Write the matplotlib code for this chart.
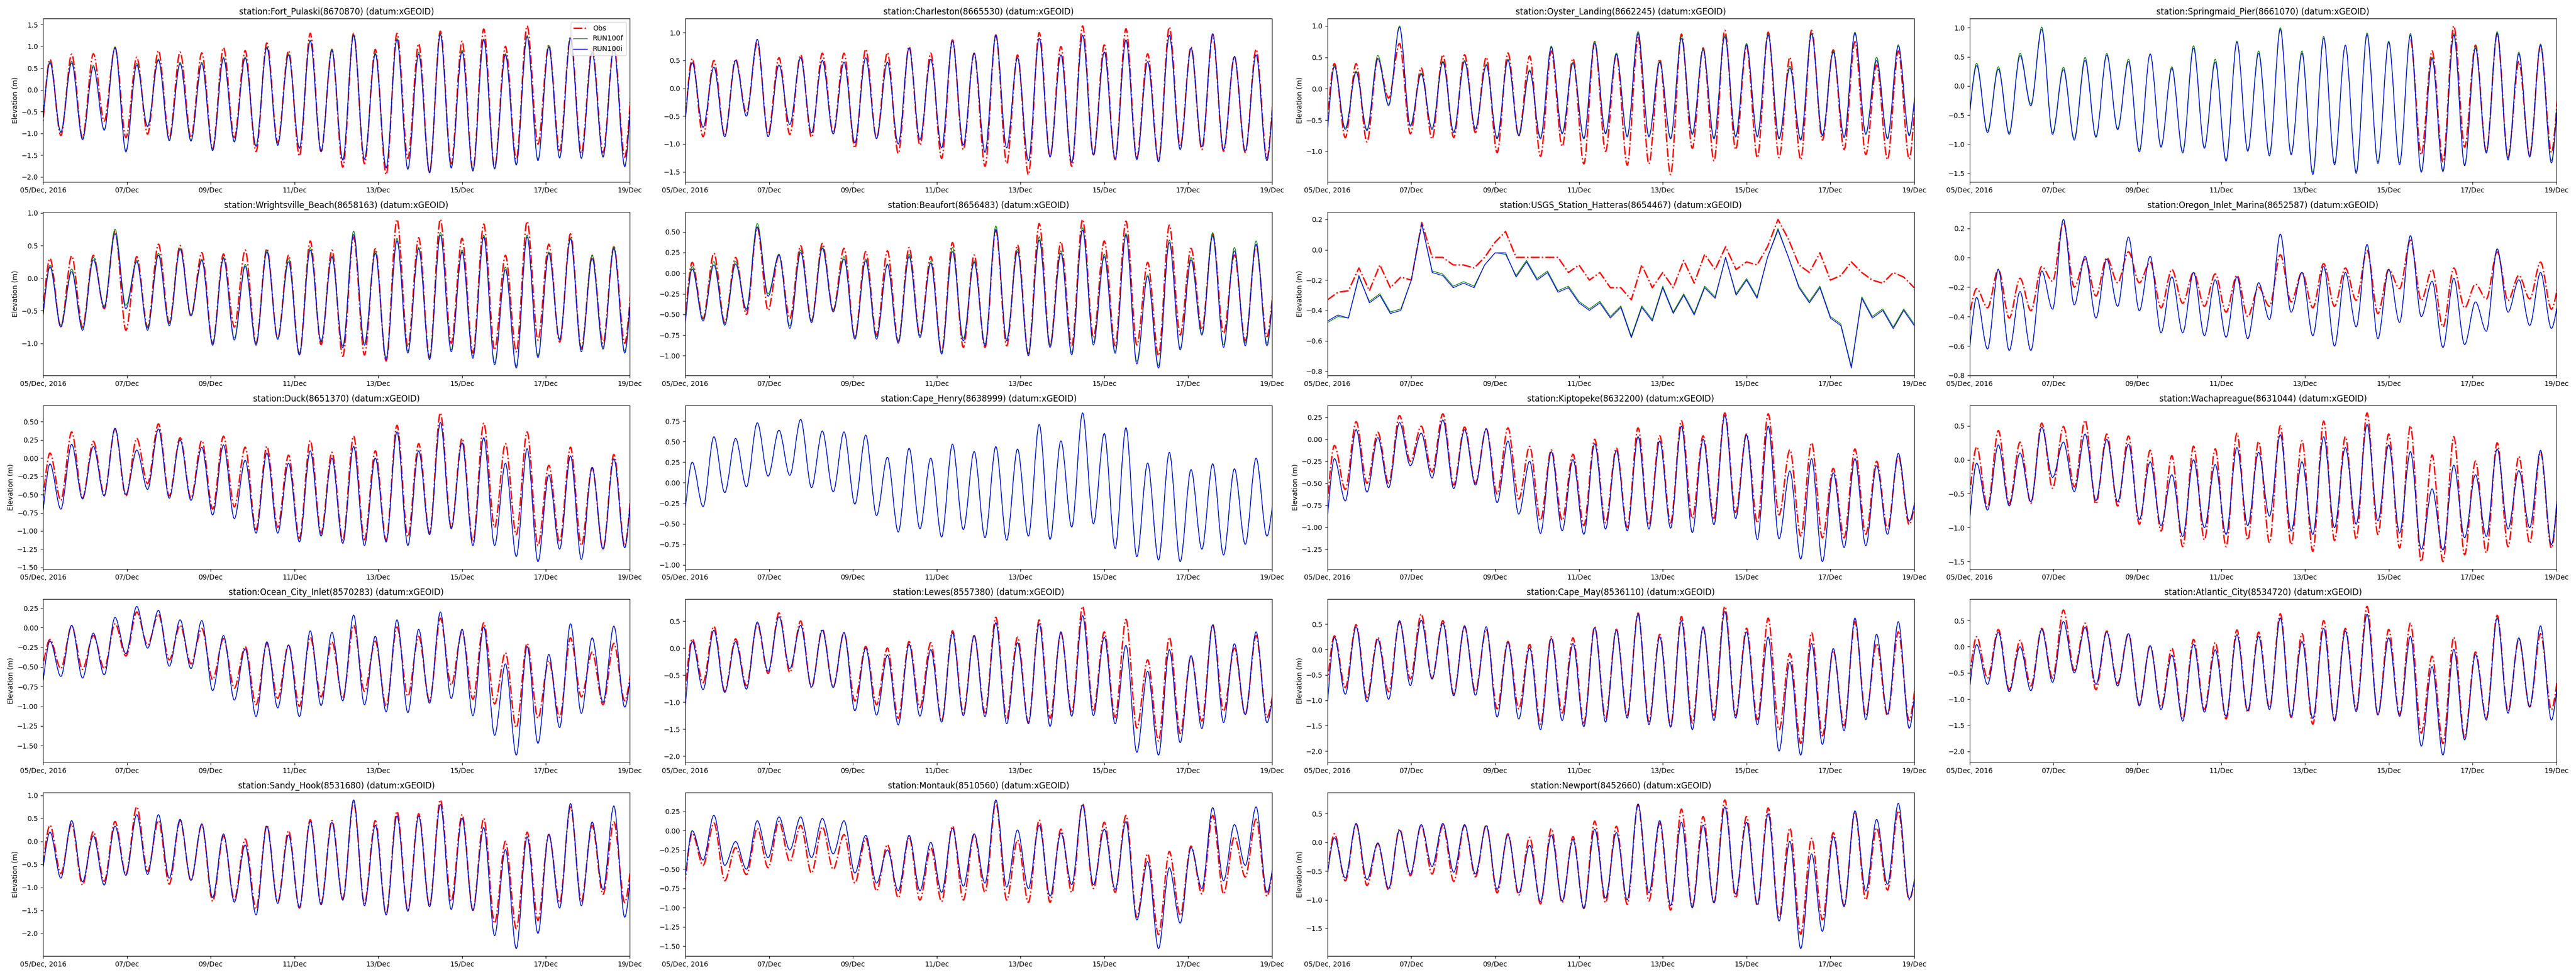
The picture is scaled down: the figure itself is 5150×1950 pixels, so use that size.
import numpy as np
import pandas as pd
import matplotlib
matplotlib.use("Agg")
import matplotlib.pyplot as plt
import matplotlib.dates as mdates
from matplotlib.path import Path
from matplotlib.patches import PathPatch
from matplotlib.lines import Line2D

nan = np.nan

# ---------------- stations (row-major order of the panels) ----------------
STATIONS = ["Fort_Pulaski", "Charleston", "Oyster_Landing", "Springmaid_Pier",
            "Wrightsville_Beach", "Beaufort", "USGS_Station_Hatteras", "Oregon_Inlet_Marina",
            "Duck", "Cape_Henry", "Kiptopeke", "Wachapreague",
            "Ocean_City_Inlet", "Lewes", "Cape_May", "Atlantic_City",
            "Sandy_Hook", "Montauk", "Newport"]
STATION_IDS = ["8670870", "8665530", "8662245", "8661070",
               "8658163", "8656483", "8654467", "8652587",
               "8651370", "8638999", "8632200", "8631044",
               "8570283", "8557380", "8536110", "8534720",
               "8531680", "8510560", "8452660"]

# sampling of the series (successive highs/lows of the tide)
TIDE_START = "2016-12-04 21:47"
TIDE_STEP = "6h12min36s"
# Hatteras is read on a regular 6-hourly grid
HATTERAS_START = "2016-12-05 00:00"
HATTERAS_STEP = "6h"

TICK_DATES = ["2016-12-05", "2016-12-07", "2016-12-09", "2016-12-11",
              "2016-12-13", "2016-12-15", "2016-12-17", "2016-12-19"]
TICK_LABELS = ["05/Dec, 2016", "07/Dec", "09/Dec", "11/Dec",
               "13/Dec", "15/Dec", "17/Dec", "19/Dec"]

# ---------------- values (m) ----------------
obs_fort_pulaski = [-1.30, 0.70, -1.05, 0.82, -1.10, 0.83, -0.72, 0.97, -1.10, 0.75, -1.02, 0.90, -1.10, 0.87, -1.10,
                    0.85, -1.35, 0.97, -1.10, 0.90, -1.42, 1.08, -1.22, 0.90, -1.52, 1.30, -1.42, 0.93, -1.78,
                    1.30, -1.70, 0.93, -1.95, 1.30, -1.58, 1.06, -1.90, 1.35, -1.70, 1.12, -1.85, 1.40, -1.80,
                    1.00, -1.60, 1.47, -1.25, 1.03, -1.40, 1.22, -1.45, 0.95, -1.45, 1.00, -1.55, 1.00]
run100i_fort_pulaski = [-1.20, 0.62, -0.98, 0.62, -1.15, 0.53, -0.93, 0.97, -1.43, 0.57, -0.85, 0.68, -1.17, 0.60, -1.18,
                        0.60, -1.40, 0.72, -1.20, 0.73, -1.30, 0.97, -1.28, 0.80, -1.35, 1.12, -1.42, 0.90, -1.62,
                        1.25, -1.60, 0.82, -1.80, 1.15, -1.83, 0.82, -1.91, 1.27, -1.80, 0.88, -1.87, 1.15, -1.82,
                        0.80, -1.73, 1.22, -1.63, 0.98, -1.57, 1.18, -1.58, 0.85, -1.55, 0.95, -1.77, 0.90]
run100f_fort_pulaski = [-1.18, 0.65, -0.96, 0.66, -1.12, 0.56, -0.91, 0.99, -1.40, 0.61, -0.83, 0.71, -1.14, 0.63, -1.16,
                        0.63, -1.37, 0.75, -1.18, 0.76, -1.28, 0.99, -1.26, 0.83, -1.33, 1.14, -1.40, 0.93, -1.60,
                        1.28, -1.58, 0.85, -1.78, 1.18, -1.81, 0.86, -1.88, 1.30, -1.78, 0.91, -1.85, 1.17, -1.80,
                        0.83, -1.71, 1.25, -1.61, 1.02, -1.55, 1.20, -1.56, 0.88, -1.53, 0.98, -1.74, 0.90]

obs_charleston = [-1.00, 0.53, -0.87, 0.50, -0.85, 0.52, -0.45, 0.82, -0.82, 0.55, -0.83, 0.60, -0.88, 0.63, -0.80,
                  0.63, -1.07, 0.70, -0.90, 0.64, -1.17, 0.75, -1.02, 0.63, -1.26, 0.87, -1.10, 0.63, -1.40,
                  0.96, -1.35, 0.60, -1.55, 1.00, -1.23, 0.75, -1.40, 1.12, -1.20, 0.78, -1.28, 1.07, -1.25,
                  0.62, -1.30, 1.10, -1.05, 0.74, -1.10, 0.95, -1.13, 0.57, -1.15, 0.70, -1.25, 0.60]
run100i_charleston = [-1.00, 0.46, -0.70, 0.38, -0.87, 0.50, -0.50, 0.88, -0.87, 0.42, -0.65, 0.55, -0.80, 0.50, -0.82,
                      0.47, -0.98, 0.55, -0.90, 0.47, -1.00, 0.72, -0.92, 0.52, -1.07, 0.85, -1.02, 0.63, -1.15,
                      0.95, -1.07, 0.55, -1.30, 0.90, -1.23, 0.60, -1.33, 0.95, -1.20, 0.65, -1.27, 0.87, -1.28,
                      0.48, -1.32, 0.95, -1.10, 0.72, -1.05, 0.98, -1.10, 0.57, -1.13, 0.60, -1.30, 0.60]

obs_oyster_landing = [-0.80, 0.40, -0.78, 0.40, -0.85, 0.48, -0.15, 0.72, -0.72, 0.33, -0.80, 0.54, -0.78, 0.54, -0.70,
                      0.50, -1.02, 0.57, -0.75, 0.52, -1.08, 0.60, -0.92, 0.48, -1.20, 0.75, -1.00, 0.55, -1.22,
                      0.82, -1.20, 0.47, -1.37, 0.87, -0.95, 0.65, -1.15, 0.93, -0.97, 0.68, -1.10, 0.90, -1.10,
                      0.50, -1.13, 0.93, -0.82, 0.62, -0.97, 0.75, -1.05, 0.38, -1.13, 0.60, -1.12, 0.50]
run100i_oyster_landing = [-1.10, 0.35, -0.65, 0.26, -0.67, 0.48, -0.27, 0.98, -0.60, 0.23, -0.65, 0.42, -0.70, 0.43, -0.65,
                          0.37, -0.80, 0.45, -0.75, 0.28, -0.80, 0.66, -0.72, 0.40, -0.80, 0.72, -0.72, 0.55, -0.77,
                          0.88, -0.77, 0.42, -0.80, 0.80, -0.73, 0.62, -0.80, 0.83, -0.77, 0.70, -0.77, 0.85, -0.80,
                          0.33, -0.82, 0.87, -0.75, 0.58, -0.78, 0.88, -0.73, 0.45, -0.80, 0.68, -0.75, 0.50]
run100f_oyster_landing = [-1.08, 0.37, -0.63, 0.28, -0.65, 0.53, -0.25, 1.00, -0.58, 0.25, -0.63, 0.44, -0.68, 0.45, -0.63,
                          0.39, -0.78, 0.47, -0.73, 0.30, -0.78, 0.68, -0.70, 0.42, -0.78, 0.75, -0.70, 0.57, -0.75,
                          0.91, -0.75, 0.44, -0.78, 0.83, -0.71, 0.64, -0.78, 0.86, -0.75, 0.72, -0.75, 0.87, -0.78,
                          0.36, -0.80, 0.89, -0.73, 0.60, -0.76, 0.90, -0.71, 0.50, -0.78, 0.70, -0.73, 0.50]

obs_springmaid_pier = [nan] * 41 + [0.80, -1.18, 0.60, -1.30, 1.03, -1.05, 0.70, -1.13, 0.90, -1.22,
                                    0.42, -1.18, 0.70, -1.14, 0.50]
run100i_springmaid_pier = [-0.80, 0.35, -0.80, 0.29, -0.83, 0.52, -0.34, 0.97, -0.83, 0.28, -0.93, 0.44, -0.88, 0.53, -0.75,
                           0.42, -1.13, 0.55, -1.05, 0.30, -1.15, 0.65, -1.07, 0.41, -1.29, 0.75, -1.12, 0.56, -1.20,
                           0.97, -1.18, 0.56, -1.52, 0.82, -1.35, 0.70, -1.50, 0.88, -1.33, 0.75, -1.35, 0.87, -1.48,
                           0.47, -1.47, 0.87, -1.37, 0.65, -1.15, 0.90, -1.27, 0.55, -1.22, 0.70, -1.32, 0.50]
run100f_springmaid_pier = [-0.78, 0.39, -0.77, 0.33, -0.80, 0.56, -0.31, 1.01, -0.80, 0.32, -0.90, 0.49, -0.86, 0.56, -0.73,
                           0.46, -1.10, 0.55, -1.03, 0.33, -1.12, 0.69, -1.05, 0.46, -1.27, 0.77, -1.10, 0.60, -1.17,
                           1.00, -1.16, 0.60, -1.48, 0.85, -1.32, 0.70, -1.47, 0.91, -1.30, 0.77, -1.32, 0.90, -1.46,
                           0.49, -1.45, 0.90, -1.35, 0.68, -1.13, 0.93, -1.24, 0.58, -1.20, 0.72, -1.28, 0.52]

obs_wrightsville_beach = [-0.80, 0.30, -0.75, 0.34, -0.75, 0.35, -0.47, 0.72, -0.80, 0.33, -0.75, 0.52, -0.68, 0.50, -0.58,
                          0.39, -1.00, 0.37, -0.75, 0.43, -1.00, 0.45, -0.93, 0.35, -1.17, 0.57, -1.02, 0.43, -1.20,
                          0.63, -1.18, 0.45, -1.27, 0.90, -1.05, 0.62, -1.22, 0.90, -1.00, 0.61, -1.15, 0.83, -1.10,
                          0.35, -1.13, 0.87, -0.95, 0.52, -0.98, 0.68, -1.08, 0.35, -1.00, 0.48, -1.00, 0.40]
run100i_wrightsville_beach = [-0.90, 0.17, -0.75, 0.10, -0.80, 0.28, -0.45, 0.68, -0.47, 0.25, -0.80, 0.35, -0.73, 0.44, -0.58,
                              0.27, -1.03, 0.30, -0.95, 0.18, -1.03, 0.40, -0.94, 0.25, -1.18, 0.43, -0.98, 0.32, -1.07,
                              0.67, -1.03, 0.38, -1.25, 0.57, -1.15, 0.45, -1.25, 0.66, -1.13, 0.40, -1.23, 0.63, -1.33,
                              0.13, -1.38, 0.63, -1.22, 0.38, -0.95, 0.60, -1.13, 0.30, -1.09, 0.45, -1.15, 0.40]
run100f_wrightsville_beach = [-0.88, 0.20, -0.72, 0.14, -0.77, 0.32, -0.43, 0.75, -0.42, 0.27, -0.77, 0.38, -0.70, 0.46, -0.56,
                              0.29, -1.00, 0.32, -0.92, 0.21, -1.00, 0.43, -0.92, 0.30, -1.15, 0.47, -0.96, 0.34, -1.04,
                              0.72, -1.00, 0.41, -1.22, 0.61, -1.12, 0.47, -1.22, 0.70, -1.10, 0.43, -1.20, 0.66, -1.30,
                              0.17, -1.35, 0.66, -1.19, 0.40, -0.93, 0.62, -1.10, 0.35, -1.06, 0.48, -1.12, 0.42]

obs_beaufort = [-0.80, 0.13, -0.55, 0.24, -0.60, 0.19, -0.50, 0.55, -0.45, 0.22, -0.55, 0.33, -0.58, 0.36, -0.45,
                0.30, -0.78, 0.26, -0.75, 0.27, -0.83, 0.31, -0.75, 0.20, -0.95, 0.37, -0.90, 0.22, -0.90,
                0.52, -0.88, 0.34, -0.98, 0.60, -0.88, 0.38, -0.88, 0.65, -0.78, 0.39, -0.88, 0.63, -0.87,
                0.13, -1.00, 0.58, -0.75, 0.30, -0.68, 0.47, -0.73, 0.22, -0.82, 0.33, -0.77, 0.20]
run100i_beaufort = [-0.90, 0.05, -0.58, 0.10, -0.63, 0.11, -0.45, 0.56, -0.28, 0.22, -0.67, 0.25, -0.60, 0.30, -0.47,
                    0.17, -0.80, 0.15, -0.80, 0.10, -0.85, 0.20, -0.78, 0.12, -0.98, 0.26, -0.82, 0.13, -0.88,
                    0.53, -0.82, 0.26, -1.00, 0.40, -0.90, 0.24, -0.99, 0.52, -0.87, 0.20, -0.97, 0.46, -1.10,
                    -0.04, -1.15, 0.37, -0.93, 0.16, -0.75, 0.45, -0.90, 0.27, -0.88, 0.35, -0.88, 0.20]
run100f_beaufort = [-0.88, 0.08, -0.56, 0.14, -0.61, 0.14, -0.43, 0.60, -0.25, 0.23, -0.64, 0.28, -0.58, 0.32, -0.45,
                    0.20, -0.78, 0.17, -0.77, 0.11, -0.83, 0.23, -0.76, 0.14, -0.96, 0.31, -0.79, 0.15, -0.86,
                    0.57, -0.80, 0.29, -0.97, 0.44, -0.87, 0.27, -0.96, 0.55, -0.84, 0.23, -0.95, 0.48, -1.07,
                    -0.02, -1.12, 0.40, -0.91, 0.19, -0.73, 0.49, -0.87, 0.31, -0.85, 0.39, -0.85, 0.22]

obs_hatteras = [-0.33, -0.28, -0.27, -0.12, -0.27, -0.10, -0.25, -0.18, -0.20, 0.18, -0.05, -0.05, -0.10, -0.10, -0.12,
                -0.05, 0.05, 0.12, -0.05, -0.05, -0.05, -0.05, -0.05, -0.15, -0.10, -0.20, -0.15, -0.25, -0.25,
                -0.33, -0.10, -0.25, -0.15, -0.25, -0.07, -0.22, -0.03, -0.13, 0.02, -0.13, -0.08, -0.10, 0.02,
                0.20, 0.07, -0.10, -0.15, -0.02, -0.20, -0.17, -0.08, -0.15, -0.20, -0.22, -0.15, -0.18, -0.25]
run100i_hatteras = [-0.47, -0.43, -0.45, -0.17, -0.35, -0.30, -0.42, -0.40, -0.20, 0.17, -0.15, -0.17, -0.25, -0.22, -0.25,
                    -0.10, -0.02, -0.02, -0.18, -0.08, -0.20, -0.15, -0.28, -0.25, -0.35, -0.40, -0.35, -0.45, -0.38,
                    -0.58, -0.38, -0.47, -0.25, -0.42, -0.30, -0.43, -0.25, -0.32, -0.05, -0.30, -0.20, -0.32, -0.05,
                    0.13, -0.05, -0.25, -0.35, -0.25, -0.45, -0.50, -0.78, -0.32, -0.45, -0.40, -0.52, -0.40, -0.50]
run100f_hatteras = [-0.48, -0.44, -0.45, -0.18, -0.34, -0.29, -0.41, -0.39, -0.20, 0.17, -0.14, -0.16, -0.24, -0.21, -0.24,
                    -0.10, -0.02, -0.03, -0.17, -0.07, -0.19, -0.14, -0.27, -0.24, -0.34, -0.39, -0.34, -0.44, -0.37,
                    -0.57, -0.37, -0.46, -0.24, -0.41, -0.29, -0.42, -0.24, -0.31, -0.05, -0.29, -0.19, -0.31, -0.05,
                    0.14, -0.05, -0.24, -0.34, -0.24, -0.44, -0.49, -0.77, -0.31, -0.44, -0.39, -0.51, -0.39, -0.49]

obs_oregon_inlet = [-0.45, -0.21, -0.34, -0.08, -0.41, -0.14, -0.36, -0.06, -0.16, 0.24, -0.20, -0.01, -0.26, 0.00, -0.17,
                    0.04, -0.17, -0.03, -0.34, -0.08, -0.31, -0.10, -0.33, -0.11, -0.37, -0.12, -0.40, -0.20, -0.33,
                    0.02, -0.30, -0.10, -0.34, -0.04, -0.33, -0.07, -0.29, 0.05, -0.38, -0.08, -0.21, 0.12, -0.29,
                    -0.08, -0.47, -0.07, -0.34, -0.18, -0.28, 0.04, -0.29, -0.12, -0.28, -0.03, -0.35, -0.10]
run100i_oregon_inlet = [-0.75, -0.27, -0.62, -0.08, -0.63, -0.23, -0.63, -0.09, -0.35, 0.26, -0.32, 0.01, -0.41, -0.01, -0.33,
                        0.14, -0.36, 0.01, -0.51, -0.13, -0.51, -0.10, -0.53, -0.15, -0.54, -0.13, -0.55, -0.17, -0.42,
                        0.16, -0.37, -0.10, -0.53, -0.06, -0.60, -0.10, -0.47, 0.09, -0.55, -0.08, -0.44, 0.15, -0.40,
                        -0.16, -0.61, -0.14, -0.59, -0.30, -0.50, 0.06, -0.37, -0.15, -0.46, -0.10, -0.48, -0.20]

obs_duck = [-0.80, 0.07, -0.58, 0.36, -0.55, 0.23, -0.50, 0.40, -0.52, 0.27, -0.35, 0.47, -0.52, 0.28, -0.55,
            0.24, -0.70, 0.30, -0.67, 0.15, -0.98, 0.16, -0.95, 0.04, -1.10, 0.24, -1.03, 0.08, -1.13,
            0.30, -1.12, 0.10, -1.13, 0.45, -1.08, 0.20, -1.03, 0.62, -0.95, 0.27, -1.15, 0.48, -0.95,
            0.20, -1.05, 0.36, -1.20, -0.10, -1.15, 0.15, -1.20, -0.13, -1.25, 0.05, -1.20, 0.00]
run100i_duck = [-1.00, -0.08, -0.70, 0.19, -0.56, 0.16, -0.52, 0.41, -0.50, 0.11, -0.43, 0.40, -0.55, 0.25, -0.58,
                0.15, -0.78, 0.18, -0.83, -0.03, -1.03, 0.07, -1.03, -0.07, -1.15, 0.10, -1.07, 0.00, -1.17,
                0.16, -1.20, 0.00, -1.15, 0.36, -1.20, 0.10, -1.05, 0.49, -0.97, 0.21, -1.20, 0.28, -1.20,
                -0.07, -1.35, 0.13, -1.42, -0.23, -1.25, 0.03, -1.39, -0.13, -1.25, -0.01, -1.23, 0.00]

obs_cape_henry = [nan] * 56
run100i_cape_henry = [-0.55, 0.25, -0.29, 0.56, -0.12, 0.54, -0.05, 0.73, 0.08, 0.64, 0.09, 0.77, -0.06, 0.63, -0.11,
                      0.62, -0.26, 0.58, -0.40, 0.31, -0.60, 0.42, -0.56, 0.30, -0.66, 0.47, -0.57, 0.38, -0.67,
                      0.44, -0.70, 0.41, -0.65, 0.71, -0.69, 0.51, -0.54, 0.85, -0.50, 0.60, -0.80, 0.67, -0.90,
                      0.24, -0.94, 0.37, -0.96, 0.16, -0.81, 0.23, -0.88, 0.17, -0.75, 0.30, -0.65, 0.10]

obs_kiptopeke = [-0.95, -0.07, -0.57, 0.20, -0.50, 0.08, -0.50, 0.27, -0.25, 0.15, -0.37, 0.29, -0.52, 0.14, -0.50,
                 0.12, -0.62, 0.13, -0.68, -0.08, -0.92, -0.12, -0.92, -0.17, -0.98, 0.00, -0.95, -0.10, -1.00,
                 0.13, -0.97, 0.04, -0.95, 0.21, -0.90, 0.04, -0.90, 0.30, -0.83, 0.06, -0.95, 0.29, -0.86,
                 -0.12, -1.10, -0.04, -1.12, -0.33, -1.12, -0.11, -1.08, -0.25, -1.02, -0.19, -0.97, -0.50]
run100i_kiptopeke = [-1.15, -0.22, -0.70, 0.11, -0.60, 0.02, -0.55, 0.19, -0.30, 0.07, -0.44, 0.22, -0.56, 0.11, -0.52,
                     0.12, -0.72, -0.02, -0.85, -0.25, -1.07, -0.14, -1.04, -0.23, -1.08, -0.05, -1.02, -0.13, -1.04,
                     0.03, -1.02, -0.02, -1.01, 0.15, -1.06, 0.00, -0.97, 0.27, -0.90, 0.05, -1.14, 0.15, -1.13,
                     -0.36, -1.36, -0.22, -1.39, -0.38, -1.23, -0.22, -1.21, -0.30, -1.08, -0.16, -0.93, -0.50]

obs_wachapreague = [-0.80, 0.19, -0.70, 0.43, -0.65, 0.26, -0.64, 0.54, -0.42, 0.49, -0.40, 0.58, -0.65, 0.38, -0.68,
                    0.35, -0.95, 0.14, -1.05, 0.06, -1.28, 0.20, -1.18, 0.16, -1.28, 0.39, -1.18, 0.27, -1.22,
                    0.50, -1.25, 0.28, -1.35, 0.57, -1.19, 0.34, -1.17, 0.69, -1.10, 0.38, -1.30, 0.50, -1.50,
                    0.07, -1.50, 0.34, -1.40, -0.02, -1.37, 0.25, -1.28, 0.05, -1.23, 0.12, -1.30, 0.00]
run100i_wachapreague = [-1.20, -0.05, -0.74, 0.22, -0.68, 0.10, -0.62, 0.48, -0.26, 0.26, -0.47, 0.38, -0.60, 0.30, -0.62,
                        0.23, -0.88, -0.03, -0.97, -0.22, -1.13, 0.00, -1.00, -0.07, -1.10, 0.18, -0.97, 0.11, -0.83,
                        0.37, -1.05, -0.03, -1.10, 0.34, -1.00, 0.18, -0.95, 0.52, -0.90, 0.22, -1.08, 0.12, -1.32,
                        -0.43, -1.33, -0.08, -1.15, -0.22, -1.13, 0.16, -1.02, -0.16, -1.00, 0.14, -1.25, 0.00]

obs_ocean_city = [-0.60, -0.15, -0.52, 0.02, -0.53, -0.10, -0.52, 0.05, -0.36, 0.20, -0.22, 0.17, -0.41, 0.03, -0.46,
                  -0.01, -0.66, -0.14, -0.77, -0.24, -0.98, -0.20, -0.90, -0.22, -1.00, -0.12, -0.88, -0.18, -0.90,
                  0.03, -0.81, -0.17, -1.00, 0.01, -0.87, -0.11, -0.93, 0.12, -0.73, -0.05, -0.91, 0.06, -0.97,
                  -0.32, -1.27, -0.20, -1.15, -0.42, -1.14, -0.13, -0.88, -0.31, -0.98, -0.20, -0.93, -0.30]
run100i_ocean_city = [-0.90, -0.17, -0.62, 0.03, -0.64, -0.07, -0.60, 0.13, -0.33, 0.27, -0.26, 0.22, -0.49, 0.10, -0.52,
                      0.09, -0.80, -0.10, -0.92, -0.27, -1.13, -0.18, -1.02, -0.22, -1.13, -0.04, -0.99, -0.06, -0.93,
                      0.16, -0.98, -0.11, -1.07, 0.10, -1.08, -0.02, -0.96, 0.20, -0.90, -0.02, -1.12, 0.01, -1.37,
                      -0.46, -1.62, -0.24, -1.47, -0.34, -1.27, 0.05, -1.09, -0.13, -0.95, 0.02, -1.01, -0.30]

obs_lewes = [-1.15, 0.17, -0.64, 0.40, -0.80, 0.17, -0.70, 0.45, -0.47, 0.65, -0.45, 0.50, -0.73, 0.35, -0.72,
             0.28, -0.98, 0.03, -1.05, 0.00, -1.30, 0.12, -1.10, 0.10, -1.35, 0.32, -1.20, 0.23, -1.20,
             0.57, -1.30, 0.20, -1.38, 0.52, -1.30, 0.28, -1.20, 0.77, -1.15, 0.30, -1.28, 0.53, -1.48,
             -0.22, -1.72, 0.20, -1.58, -0.15, -1.35, 0.43, -1.17, 0.00, -1.23, 0.23, -1.28, -0.50]
run100i_lewes = [-1.60, 0.12, -0.77, 0.33, -0.82, 0.12, -0.76, 0.48, -0.43, 0.58, -0.38, 0.42, -0.72, 0.33, -0.73,
                 0.29, -1.16, 0.00, -1.24, -0.13, -1.42, 0.07, -1.26, -0.03, -1.37, 0.28, -1.25, 0.23, -1.27,
                 0.47, -1.40, 0.10, -1.40, 0.45, -1.45, 0.30, -1.26, 0.60, -1.25, 0.20, -1.40, 0.05, -1.93,
                 -0.43, -1.98, -0.03, -1.75, -0.14, -1.49, 0.43, -1.38, 0.08, -1.23, 0.30, -1.38, -0.50]

obs_cape_may = [-1.00, 0.27, -0.75, 0.49, -0.95, 0.24, -0.83, 0.55, -0.58, 0.70, -0.57, 0.57, -0.88, 0.45, -0.83,
                0.40, -1.17, 0.16, -1.17, 0.10, -1.47, 0.25, -1.25, 0.23, -1.45, 0.45, -1.35, 0.40, -1.30,
                0.72, -1.42, 0.30, -1.50, 0.65, -1.45, 0.43, -1.30, 0.85, -1.30, 0.42, -1.38, 0.62, -1.58,
                -0.08, -1.85, 0.33, -1.70, -0.02, -1.50, 0.55, -1.30, 0.12, -1.30, 0.35, -1.40, -0.20]
run100i_cape_may = [-1.60, 0.24, -0.88, 0.45, -1.03, 0.20, -0.98, 0.57, -0.71, 0.58, -0.58, 0.52, -0.91, 0.47, -0.90,
                    0.45, -1.33, 0.14, -1.37, 0.03, -1.58, 0.22, -1.40, 0.12, -1.52, 0.43, -1.43, 0.38, -1.35,
                    0.70, -1.48, 0.25, -1.53, 0.57, -1.58, 0.45, -1.40, 0.75, -1.35, 0.35, -1.48, 0.25, -2.00,
                    -0.25, -2.08, 0.12, -1.87, 0.02, -1.60, 0.62, -1.38, 0.30, -1.27, 0.55, -1.55, -0.20]

obs_atlantic_city = [-0.85, 0.19, -0.60, 0.33, -0.82, 0.12, -0.75, 0.35, -0.60, 0.70, -0.45, 0.45, -0.82, 0.30, -0.70,
                     0.25, -1.10, 0.02, -1.15, -0.03, -1.38, 0.14, -1.20, 0.08, -1.38, 0.32, -1.25, 0.28, -1.17,
                     0.63, -1.35, 0.25, -1.48, 0.50, -1.40, 0.35, -1.20, 0.77, -1.30, 0.33, -1.30, 0.45, -1.65,
                     -0.18, -1.85, 0.18, -1.73, -0.10, -1.37, 0.60, -1.23, 0.15, -1.15, 0.25, -1.20, -0.20]
run100i_atlantic_city = [-1.10, 0.04, -0.72, 0.28, -0.86, 0.00, -0.84, 0.33, -0.68, 0.48, -0.50, 0.37, -0.72, 0.28, -0.75,
                         0.25, -1.13, 0.02, -1.20, -0.16, -1.42, 0.05, -1.25, -0.06, -1.33, 0.23, -1.22, 0.20, -1.20,
                         0.55, -1.33, 0.10, -1.37, 0.35, -1.42, 0.30, -1.24, 0.62, -1.30, 0.17, -1.33, 0.20, -1.90,
                         -0.38, -2.07, -0.05, -1.78, -0.15, -1.40, 0.55, -1.27, 0.17, -1.15, 0.40, -1.40, -0.20]

obs_sandy_hook = [-0.80, 0.35, -0.70, 0.38, -0.95, 0.21, -0.87, 0.43, -0.72, 0.75, -0.65, 0.45, -0.93, 0.45, -0.85,
                  0.36, -1.30, 0.12, -1.27, 0.05, -1.47, 0.35, -1.32, 0.23, -1.45, 0.47, -1.35, 0.45, -1.25,
                  0.85, -1.35, 0.45, -1.58, 0.65, -1.50, 0.60, -1.40, 0.90, -1.30, 0.58, -1.50, 0.50, -1.78,
                  0.00, -1.90, 0.20, -1.72, 0.15, -1.33, 0.75, -1.30, 0.35, -1.15, 0.42, -1.33, 0.00]
run100i_sandy_hook = [-0.90, 0.20, -0.80, 0.45, -0.88, 0.12, -0.95, 0.33, -0.74, 0.58, -0.72, 0.58, -0.80, 0.48, -0.85,
                      0.38, -1.22, 0.16, -1.32, -0.08, -1.60, 0.33, -1.35, 0.14, -1.43, 0.43, -1.38, 0.41, -1.28,
                      0.90, -1.40, 0.35, -1.60, 0.55, -1.52, 0.55, -1.42, 0.80, -1.48, 0.50, -1.50, 0.30, -2.05,
                      -0.18, -2.33, 0.10, -2.00, 0.15, -1.45, 0.82, -1.40, 0.42, -1.05, 0.77, -1.65, 0.00]

obs_montauk = [-0.90, -0.03, -0.45, 0.10, -0.65, -0.22, -0.57, 0.03, -0.48, 0.12, -0.40, 0.07, -0.55, 0.05, -0.50,
               -0.05, -0.68, -0.10, -0.78, -0.18, -0.87, -0.08, -0.90, -0.22, -0.92, 0.06, -0.90, -0.05, -0.80,
               0.37, -0.90, -0.12, -0.93, 0.14, -0.93, 0.02, -0.80, 0.35, -0.75, 0.11, -0.80, 0.20, -1.12,
               -0.30, -1.35, -0.27, -1.10, -0.20, -0.82, 0.20, -0.82, -0.08, -0.60, 0.15, -0.85, -0.20]
run100i_montauk = [-0.85, 0.00, -0.38, 0.20, -0.45, -0.14, -0.50, 0.13, -0.35, 0.18, -0.25, 0.18, -0.35, 0.16, -0.30,
                   0.13, -0.55, -0.06, -0.68, -0.25, -0.78, -0.06, -0.78, -0.15, -0.80, 0.03, -0.72, -0.04, -0.68,
                   0.40, -0.73, 0.01, -0.75, 0.07, -0.85, -0.03, -0.70, 0.33, -0.70, 0.02, -0.76, 0.12, -1.16,
                   -0.40, -1.53, -0.48, -1.20, -0.22, -0.75, 0.30, -0.65, 0.08, -0.45, 0.31, -0.80, -0.20]

obs_newport = [-0.80, 0.15, -0.67, 0.32, -0.75, -0.02, -0.83, 0.23, -0.58, 0.30, -0.55, 0.30, -0.68, 0.30, -0.60,
               0.30, -0.88, 0.15, -0.92, 0.09, -1.07, 0.24, -1.05, 0.10, -1.15, 0.37, -1.05, 0.28, -1.08,
               0.66, -1.02, 0.34, -1.18, 0.58, -1.12, 0.45, -1.05, 0.74, -0.97, 0.45, -1.10, 0.60, -1.30,
               0.25, -1.60, 0.07, -1.35, 0.17, -1.10, 0.53, -1.00, 0.25, -0.83, 0.55, -1.00, -0.30]
run100i_newport = [-0.80, 0.08, -0.62, 0.33, -0.65, -0.01, -0.80, 0.21, -0.55, 0.31, -0.42, 0.33, -0.52, 0.31, -0.55,
                   0.29, -0.82, 0.13, -0.88, -0.05, -1.03, 0.13, -1.02, 0.05, -1.15, 0.23, -0.97, 0.17, -1.00,
                   0.67, -0.88, 0.38, -1.10, 0.35, -1.14, 0.30, -1.05, 0.62, -0.90, 0.35, -1.08, 0.50, -1.37,
                   0.02, -1.85, -0.20, -1.55, 0.10, -1.12, 0.55, -0.85, 0.40, -0.73, 0.68, -0.98, -0.30]

OBS = [obs_fort_pulaski, obs_charleston, obs_oyster_landing, obs_springmaid_pier,
       obs_wrightsville_beach, obs_beaufort, obs_hatteras, obs_oregon_inlet,
       obs_duck, obs_cape_henry, obs_kiptopeke, obs_wachapreague,
       obs_ocean_city, obs_lewes, obs_cape_may, obs_atlantic_city,
       obs_sandy_hook, obs_montauk, obs_newport]
RUN100I = [run100i_fort_pulaski, run100i_charleston, run100i_oyster_landing, run100i_springmaid_pier,
           run100i_wrightsville_beach, run100i_beaufort, run100i_hatteras, run100i_oregon_inlet,
           run100i_duck, run100i_cape_henry, run100i_kiptopeke, run100i_wachapreague,
           run100i_ocean_city, run100i_lewes, run100i_cape_may, run100i_atlantic_city,
           run100i_sandy_hook, run100i_montauk, run100i_newport]
# RUN100f lies on top of RUN100i almost everywhere; separate readings where it shows
RUN100F = list(RUN100I)
RUN100F[0] = run100f_fort_pulaski
RUN100F[2] = run100f_oyster_landing
RUN100F[3] = run100f_springmaid_pier
RUN100F[4] = run100f_wrightsville_beach
RUN100F[5] = run100f_beaufort
RUN100F[6] = run100f_hatteras


def tide_path(x, y):
    """Path through successive highs and lows, flat at each turning point."""
    verts, codes = [], []
    pen = False
    for k in range(len(x) - 1):
        if np.isnan(y[k]) or np.isnan(y[k + 1]):
            pen = False
            continue
        if not pen:
            verts.append((x[k], y[k]))
            codes.append(Path.MOVETO)
            pen = True
        d = (x[k + 1] - x[k]) / 3.0
        verts += [(x[k] + d, y[k]), (x[k + 1] - d, y[k + 1]), (x[k + 1], y[k + 1])]
        codes += [Path.CURVE4] * 3
    if not verts:
        return None
    return Path(verts, codes)


STYLES = [dict(color="red", ls="-.", lw=2.0, label="Obs"),
          dict(color="green", ls="-", lw=1.0, label="RUN100f"),
          dict(color="blue", ls="-", lw=1.0, label="RUN100i")]

# ---------------- figure ----------------
fig, axes = plt.subplots(5, 4, figsize=(51.5, 19.5), dpi=100)
fig.subplots_adjust(left=0.0167, right=0.9924, bottom=0.0195, top=0.981,
                    wspace=0.0946, hspace=0.1835)

xmin = pd.Timestamp(TICK_DATES[0])
xmax = pd.Timestamp(TICK_DATES[-1])
ticks = pd.to_datetime(TICK_DATES)

for idx, ax in enumerate(axes.flat):
    if idx >= len(STATIONS):
        ax.remove()
        continue
    name = STATIONS[idx]
    hatteras = name == "USGS_Station_Hatteras"
    start, step = (HATTERAS_START, HATTERAS_STEP) if hatteras else (TIDE_START, TIDE_STEP)
    for vals, style in zip([OBS[idx], RUN100F[idx], RUN100I[idx]], STYLES):
        t = pd.date_range(start, periods=len(vals), freq=step)
        y = np.asarray(vals, dtype=float)
        if hatteras:
            ax.plot(t, y, color=style["color"], ls=style["ls"], lw=style["lw"])
        else:
            ax.plot(t, y, ls="none")  # sets date units and data limits
            p = tide_path(mdates.date2num(t), y)
            if p is not None:
                ax.add_patch(PathPatch(p, facecolor="none", edgecolor=style["color"],
                                       linestyle=style["ls"], linewidth=style["lw"],
                                       joinstyle="round"))
    ax.set_xlim(xmin, xmax)
    ax.set_xticks(ticks)
    ax.set_xticklabels(TICK_LABELS)
    ax.set_title(f"station:{name}({STATION_IDS[idx]}) (datum:xGEOID)")
    if idx % 2 == 0:
        ax.set_ylabel("Elevation (m)")
    if idx == 0:
        handles = [Line2D([], [], color=s["color"], ls=s["ls"], lw=s["lw"]) for s in STYLES]
        ax.legend(handles, [s["label"] for s in STYLES], loc="upper right")

fig.savefig("out.png", dpi=100)
